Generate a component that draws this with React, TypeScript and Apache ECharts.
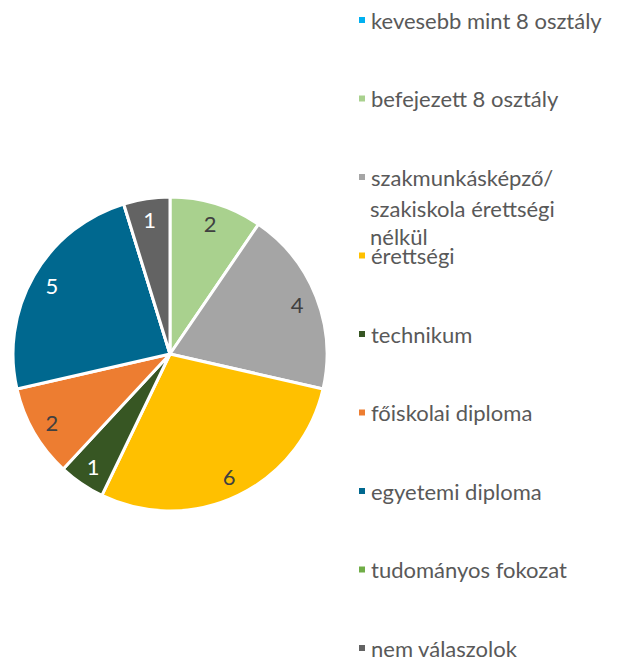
import React, { useEffect, useRef } from "react";
import * as echarts from "echarts";

const categories = [
  "kevesebb mint 8 osztály",
  "befejezett 8 osztály",
  "szakmunkásképző/\nszakiskola érettségi\nnélkül",
  "érettségi",
  "technikum",
  "főiskolai diploma",
  "egyetemi diploma",
  "tudományos fokozat",
  "nem válaszolok",
];
const values = [0, 2, 4, 6, 1, 2, 5, 0, 1];
const colors = [
  "#00B0F0",
  "#A9D18E",
  "#A5A5A5",
  "#FFC000",
  "#375623",
  "#ED7D31",
  "#00688F",
  "#70AD47",
  "#636363",
];
const labelColors = [
  "#404040",
  "#404040",
  "#404040",
  "#404040",
  "#FFFFFF",
  "#404040",
  "#FFFFFF",
  "#404040",
  "#FFFFFF",
];

const FONT = "Lato, 'Open Sans', sans-serif";

export default function App() {
  const ref = useRef<HTMLDivElement>(null);
  useEffect(() => {
    document.body.style.margin = "0";
    if (!ref.current) return;
    const chart = echarts.init(ref.current, null, { renderer: "svg" });
    const extraLines = categories[2].split("\n").slice(1);
    const center = [170, 354];
    const R = 157;
    chart.setOption({
      animation: false,
      backgroundColor: "#ffffff",
      legend: {
        orient: "vertical",
        left: 357,
        top: 9,
        height: 760,
        padding: 0,
        icon: "rect",
        itemWidth: 8,
        itemHeight: 8,
        itemGap: 56.5,
        data: categories,
        selectedMode: false,
        formatter: (name: string) => name.split("\n")[0],
        textStyle: {
          fontFamily: FONT,
          fontSize: 22,
          color: "#595959",
        },
      },
      graphic: extraLines.map((t, i) => ({
        type: "text",
        x: 370,
        y: 208 + i * 28,
        style: {
          text: t,
          fontFamily: FONT,
          fontSize: 22,
          fill: "#595959",
          verticalAlign: "middle",
        },
      })),
      series: [
        {
          type: "pie",
          center,
          radius: [0, R],
          startAngle: 90,
          clockwise: true,
          label: { show: false },
          labelLine: { show: false },
          itemStyle: { borderColor: "#ffffff", borderWidth: 3 },
          data: categories.map((name, i) => ({
            name,
            value: values[i],
            itemStyle: { color: colors[i] },
          })),
        },
        {
          type: "pie",
          center,
          radius: [R * 0.7, R],
          startAngle: 90,
          clockwise: true,
          silent: true,
          legendHoverLink: false,
          labelLine: { show: false },
          itemStyle: { color: "rgba(0,0,0,0)", borderWidth: 0 },
          data: categories.map((name, i) => ({
            name,
            value: values[i],
            itemStyle: { color: "rgba(0,0,0,0)" },
            label: {
              show: values[i] > 0,
              position: "inside",
              formatter: "{c}",
              color: labelColors[i],
              fontFamily: FONT,
              fontSize: 22,
            },
          })),
        },
      ],
    });
    return () => chart.dispose();
  }, []);
  return <div ref={ref} style={{ width: 622, height: 659 }} />;
}
